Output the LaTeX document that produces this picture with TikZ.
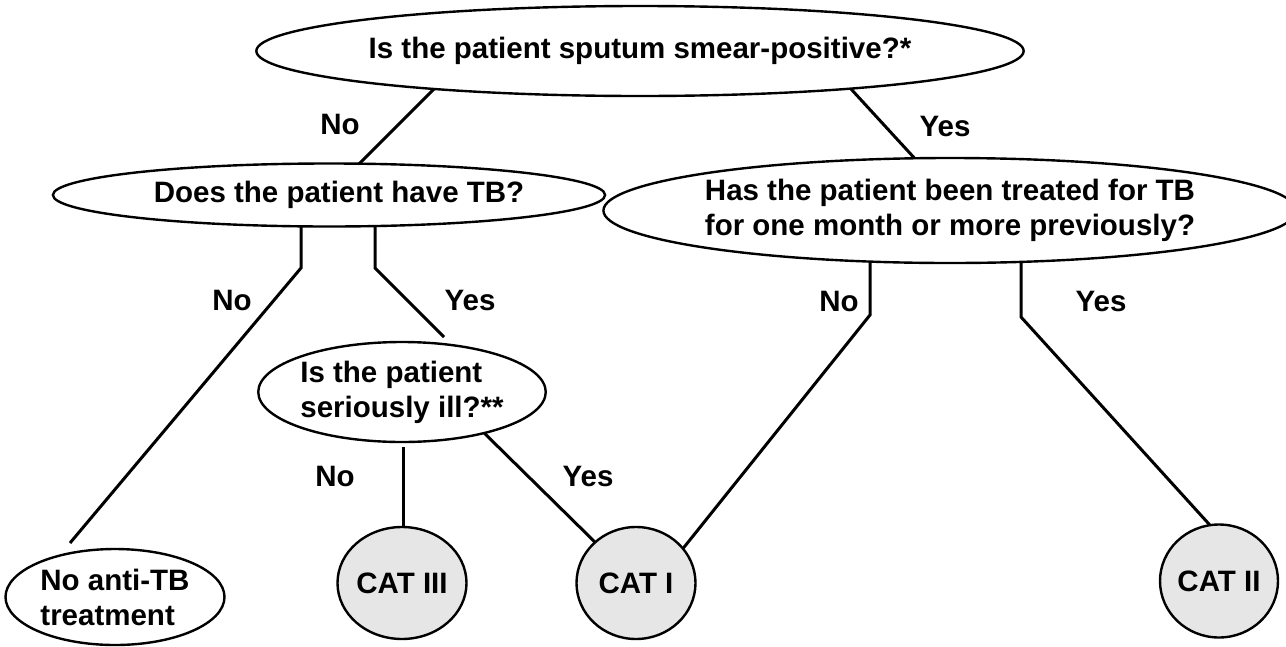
\documentclass[tikz,border=0pt]{standalone}
\usepackage{fontspec}
\setmainfont{Liberation Sans}
\usetikzlibrary{shapes.geometric,backgrounds}
\definecolor{catgray}{HTML}{E6E6E6}
\tikzset{
  txt/.style={font=\fontsize{29.5}{35}\selectfont\bfseries},
  q/.style={ellipse,draw,line width=2.4pt,fill=white,inner sep=0pt,align=left,txt},
  cat/.style={ellipse,draw,line width=2.4pt,fill=catgray,inner sep=0pt,align=center,txt},
  conn/.style={line width=3pt},
  lab/.style={txt,inner sep=0pt}
}
\begin{document}
\begin{tikzpicture}[x=1pt,y=-1pt]
\useasboundingbox (0,0) rectangle (1286,646);
\node[q,minimum width=620,minimum height=90] (q1) at (640,51) {Is the patient sputum smear-positive?*};
\node[q,minimum width=507,minimum height=63] (q2) at (329,195) {\hspace*{20pt}Does the patient have TB?};
\node[q,minimum width=666,minimum height=105] (q3) at (950,210.5) {Has the patient been treated for TB\\for one month or more previously?};
\node[q,minimum width=266,minimum height=100] (q4) at (402,392) {Is the patient\\seriously ill?**};
\node[q,minimum width=219,minimum height=96] (leaf) at (115,597) {No anti-TB\\treatment};
\node[cat,minimum width=116,minimum height=112] (cat3) at (402,583) {CAT III};
\node[cat,minimum width=119,minimum height=112] (cat1) at (636,583) {CAT I};
\node[cat,minimum width=118,minimum height=113] (cat2) at (1219,581) {CAT II};
\coordinate (a1) at (445,78);
\coordinate (a2) at (355,168);
\coordinate (b1) at (840,77);
\coordinate (b2) at (918,162);
\coordinate (c0) at (301,200);
\coordinate (c1) at (301,268);
\coordinate (c2) at (70,543);
\coordinate (d0) at (375,200);
\coordinate (d1) at (375,268);
\coordinate (d2) at (444,337);
\coordinate (e1) at (403,447);
\coordinate (f1) at (474,423);
\coordinate (f2) at (603,550);
\coordinate (g0) at (870,250);
\coordinate (g1) at (870,315);
\coordinate (g2) at (677,556);
\coordinate (h0) at (1021,250);
\coordinate (h1) at (1021,317);
\coordinate (h2) at (1218,534);
\begin{pgfonlayer}{background}
\draw[conn] (a1) -- (a2);
\draw[conn] (b1) -- (b2);
\draw[conn] (c0) -- (c1) -- (c2);
\draw[conn] (d0) -- (d1) -- (d2);
\draw[conn] (e1) -- (e1 |- cat3.center);
\draw[conn] (f1) -- (f2);
\draw[conn] (g0) -- (g1) -- (g2);
\draw[conn] (h0) -- (h1) -- (h2);
\end{pgfonlayer}
\node[lab] (l1) at (340,124) {No};
\node[lab] (l2) at (945,126) {Yes};
\node[lab] (l3) at (232,300) {No};
\node[lab] (l4) at (470,300) {Yes};
\node[lab] (l5) at (839,301) {No};
\node[lab] (l6) at (1101,301) {Yes};
\node[lab] (l7) at (335,476) {No};
\node[lab] (l8) at (588,476) {Yes};
\end{tikzpicture}
\end{document}
